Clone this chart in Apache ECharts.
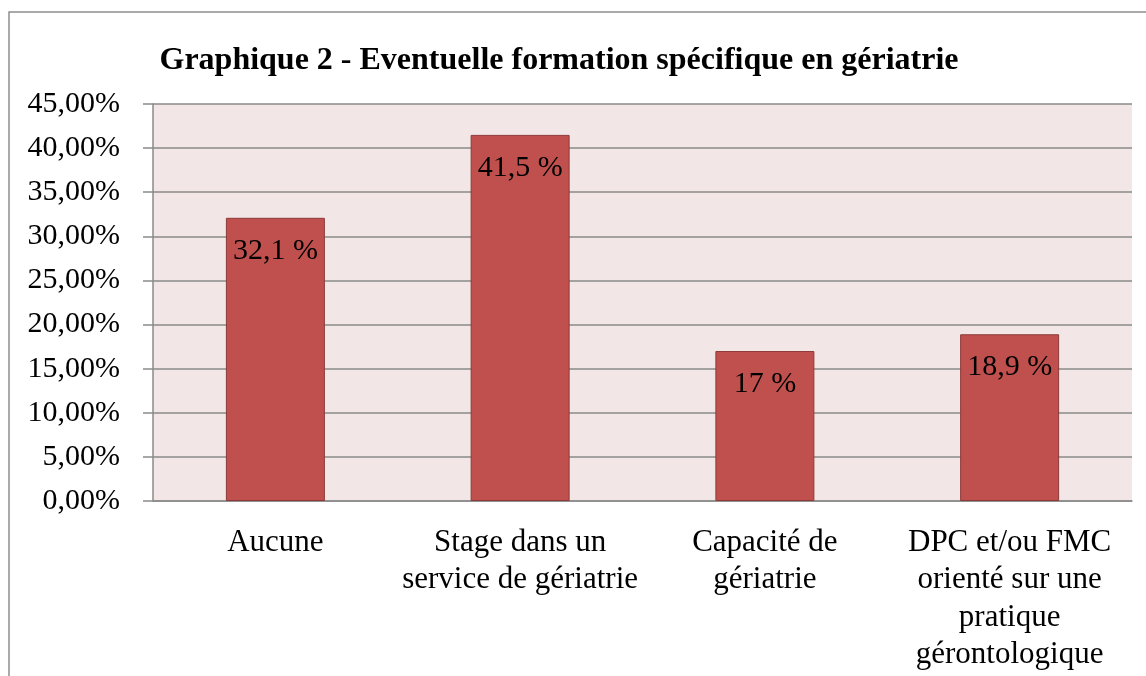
<!DOCTYPE html>
<html>
<head>
<meta charset="utf-8">
<script src="https://cdn.jsdelivr.net/npm/echarts@6/dist/echarts.min.js"></script>
<style>
    html, body { margin: 0; padding: 0; background: #fff; }
    #chart { width: 1146px; height: 676px; }
</style>
</head>
<body>
<div id="chart"></div>
<script>
    // données
    var categories = [
        'Aucune',
        'Stage dans un\nservice de gériatrie',
        'Capacité de\ngériatrie',
        'DPC et/ou FMC\norienté sur une\npratique\ngérontologique'
    ];
    var values = [32.1, 41.5, 17, 18.9];
    var yMin = 0, yMax = 45, yStep = 5;

    var serif = "'Liberation Serif', 'Times New Roman', serif";

    var chart = echarts.init(document.getElementById('chart'));
    var option = {
        backgroundColor: '#fff',
        animation: false,
        title: {
            text: 'Graphique 2 - Eventuelle formation spécifique en gériatrie',
            left: 554,
            textAlign: 'center',
            top: 40,
            textStyle: {
                fontFamily: serif,
                fontWeight: 'bold',
                fontSize: 32,
                color: '#000'
            }
        },
        graphic: [
            {
                type: 'rect',
                shape: { x: 9, y: 12, width: 1200, height: 720 },
                style: { fill: 'none', stroke: '#8f8f8f', lineWidth: 1.5 },
                silent: true
            }
        ],
        grid: {
            show: true,
            left: 153,
            right: 14,
            top: 104,
            bottom: 175,
            backgroundColor: '#F2E7E6',
            borderWidth: 0
        },
        xAxis: {
            type: 'category',
            data: categories,
            axisLine: { show: true, lineStyle: { color: '#8a8a8a', width: 1.5 } },
            axisTick: { show: false },
            axisLabel: {
                interval: 0,
                margin: 23,
                fontFamily: serif,
                fontSize: 31,
                lineHeight: 37.5,
                color: '#000',
                align: 'center'
            }
        },
        yAxis: {
            type: 'value',
            min: yMin,
            max: yMax,
            interval: yStep,
            axisLine: { show: true, lineStyle: { color: '#8a8a8a', width: 1.5 } },
            axisTick: { show: true, length: 10, inside: false, lineStyle: { color: '#8a8a8a', width: 1.5 } },
            splitLine: { show: true, lineStyle: { color: '#8a8a8a', width: 1.5 } },
            axisLabel: {
                margin: 33,
                fontFamily: serif,
                fontSize: 30,
                color: '#000',
                formatter: function (v) {
                    return v.toFixed(2).replace('.', ',') + '%';
                }
            }
        },
        series: [
            {
                type: 'bar',
                data: values,
                barWidth: 99,
                itemStyle: {
                    color: '#C0504D',
                    borderColor: '#8C3A38',
                    borderWidth: 1
                },
                label: {
                    show: true,
                    position: 'insideTop',
                    distance: 18,
                    fontFamily: serif,
                    fontSize: 30,
                    color: '#000',
                    formatter: function (p) {
                        return String(p.value).replace('.', ',') + ' %';
                    }
                }
            }
        ]
    };
    chart.setOption(option);
</script>
</body>
</html>
